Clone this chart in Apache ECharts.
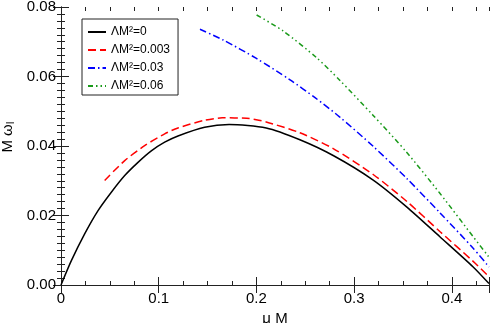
<!DOCTYPE html>
<html>
<head>
<meta charset="utf-8">
<script src="https://cdn.jsdelivr.net/npm/echarts@6/dist/echarts.min.js"></script>
<style>
  html, body { margin: 0; padding: 0; background: #fff; }
  #chart { width: 491px; height: 323px; }
</style>
</head>
<body>
<div id="chart"></div>
<script>
// curves, [mu M, M omega_I]
var seriesNames = ['ΛM²=0', 'ΛM²=0.003', 'ΛM²=0.03', 'ΛM²=0.06'];
var lambda0 = [[0, 0], [0.0106, 0.007], [0.0242, 0.0147], [0.0379, 0.0214], [0.0515, 0.0267],
    [0.0652, 0.0315], [0.0788, 0.0353], [0.0924, 0.0386], [0.1061, 0.0411], [0.1197, 0.0429],
    [0.147, 0.0454], [0.172, 0.0462], [0.21, 0.0452], [0.2445, 0.0418], [0.279, 0.0372],
    [0.3195, 0.0302], [0.3537, 0.0225], [0.3877, 0.0139], [0.4218, 0.0052], [0.438, 0.0004]];
var lambda003 = [[0.0447, 0.0301], [0.0652, 0.0358], [0.0856, 0.0401], [0.1061, 0.0435], [0.1197, 0.0452],
    [0.147, 0.0474], [0.165, 0.0481], [0.19, 0.048], [0.21, 0.0469], [0.2445, 0.0438],
    [0.279, 0.0392], [0.3195, 0.0318], [0.3537, 0.0241], [0.3877, 0.0154], [0.4218, 0.0068], [0.438, 0.0024]];
var lambda03 = [[0.1422, 0.0736], [0.166, 0.0705], [0.2, 0.0652], [0.234, 0.0591], [0.26, 0.0539],
    [0.285, 0.0484], [0.3195, 0.0399], [0.3537, 0.0307], [0.3877, 0.0208], [0.4218, 0.0106], [0.438, 0.0052]];
var lambda06 = [[0.2002, 0.0777], [0.2274, 0.0731], [0.2616, 0.0654], [0.285, 0.059], [0.3195, 0.0488],
    [0.3537, 0.0382], [0.3877, 0.0264], [0.4218, 0.0139], [0.438, 0.0080]];
var xMin = 0, xMax = 0.438, xStep = 0.1, xMinorStep = 0.025;
var yMin = 0, yMax = 0.08, yStep = 0.02;

var font = 'Liberation Sans';
var frameColor = '#222';
var gridBox = { left: 61, right: 2, top: 7, bottom: 38, outerBoundsMode: 'none', containLabel: false };

function xAxisDef(grid, pos, step, tickLen, main) {
    return {
        type: 'value', gridIndex: grid, position: pos,
        min: xMin, max: xMax, interval: step,
        name: main ? 'μ M' : '', nameLocation: 'middle', nameGap: 24,
        nameTextStyle: { fontFamily: font, fontSize: 15, color: '#000' },
        axisLine: { show: grid === 0, lineStyle: { color: frameColor, width: 1 } },
        axisTick: { show: true, inside: true, length: tickLen, lineStyle: { color: frameColor } },
        axisLabel: {
            show: main, fontFamily: font, fontSize: 15, color: '#000', margin: 6,
            formatter: function(v) {
                var k = v / xStep;
                if (Math.abs(k - Math.round(k)) > 1e-6) return '';
                return String(+v.toFixed(1));
            }
        },
        splitLine: { show: false }
    };
}

function yAxisDef(pos, main) {
    return {
        type: 'value', gridIndex: 0, position: pos,
        min: yMin, max: yMax, interval: yStep,
        name: main ? 'M ω{sub|I}' : '', nameLocation: 'middle', nameGap: 44,
        nameTextStyle: {
            fontFamily: font, fontSize: 15, color: '#000', padding: [0, 0, 0, 18],
            rich: { sub: { fontFamily: font, fontSize: 10, color: '#000', verticalAlign: 'bottom', padding: [6, 0, 0, 0] } }
        },
        axisLine: { show: true, lineStyle: { color: frameColor, width: 1 } },
        axisTick: { show: true, inside: true, length: 8, lineStyle: { color: frameColor } },
        minorTick: { show: true, splitNumber: 10, length: 4, lineStyle: { color: frameColor } },
        axisLabel: {
            show: main, fontFamily: font, fontSize: 15, color: '#000', margin: 5,
            formatter: function(v) { return v.toFixed(2); }
        },
        splitLine: { show: false }
    };
}

function curve(name, data, color, dash) {
    return {
        name: name, type: 'line', data: data,
        xAxisIndex: 0, yAxisIndex: 0,
        smooth: 0.25, symbol: 'none', silent: true,
        lineStyle: { color: color, width: 1.5, type: dash, cap: 'butt' },
        itemStyle: { color: color },
        z: 3
    };
}

var chart = echarts.init(document.getElementById('chart'), null, { renderer: 'canvas' });
chart.setOption({
    animation: false,
    backgroundColor: '#fff',
    grid: [
        Object.assign({}, gridBox),
        Object.assign({}, gridBox)
    ],
    xAxis: [
        xAxisDef(0, 'bottom', xStep, 8, true),
        xAxisDef(0, 'top', xStep, 8, false),
        xAxisDef(1, 'bottom', xMinorStep, 4, false),
        xAxisDef(1, 'top', xMinorStep, 4, false)
    ],
    yAxis: [
        yAxisDef('left', true),
        yAxisDef('right', false),
        { type: 'value', gridIndex: 1, min: yMin, max: yMax, show: false }
    ],
    legend: {
        orient: 'vertical', left: 82, top: 19,
        padding: [7, 8, 3, 5], itemGap: 6,
        itemWidth: 18, itemHeight: 12,
        borderColor: frameColor, borderWidth: 1,
        backgroundColor: '#fff',
        itemStyle: { color: 'rgba(0,0,0,0)', borderColor: 'rgba(0,0,0,0)', borderWidth: 0 },
        textStyle: { fontFamily: font, fontSize: 12, color: '#000' },
        data: seriesNames
    },
    series: [
        curve(seriesNames[0], lambda0, '#000000', 'solid'),
        curve(seriesNames[1], lambda003, '#ff0000', [8, 4]),
        curve(seriesNames[2], lambda03, '#0000ff', [7, 3, 1.5, 3]),
        curve(seriesNames[3], lambda06, '#1a9a1a', [5, 3, 1.5, 3, 1.5, 3])
    ]
});
</script>
</body>
</html>
